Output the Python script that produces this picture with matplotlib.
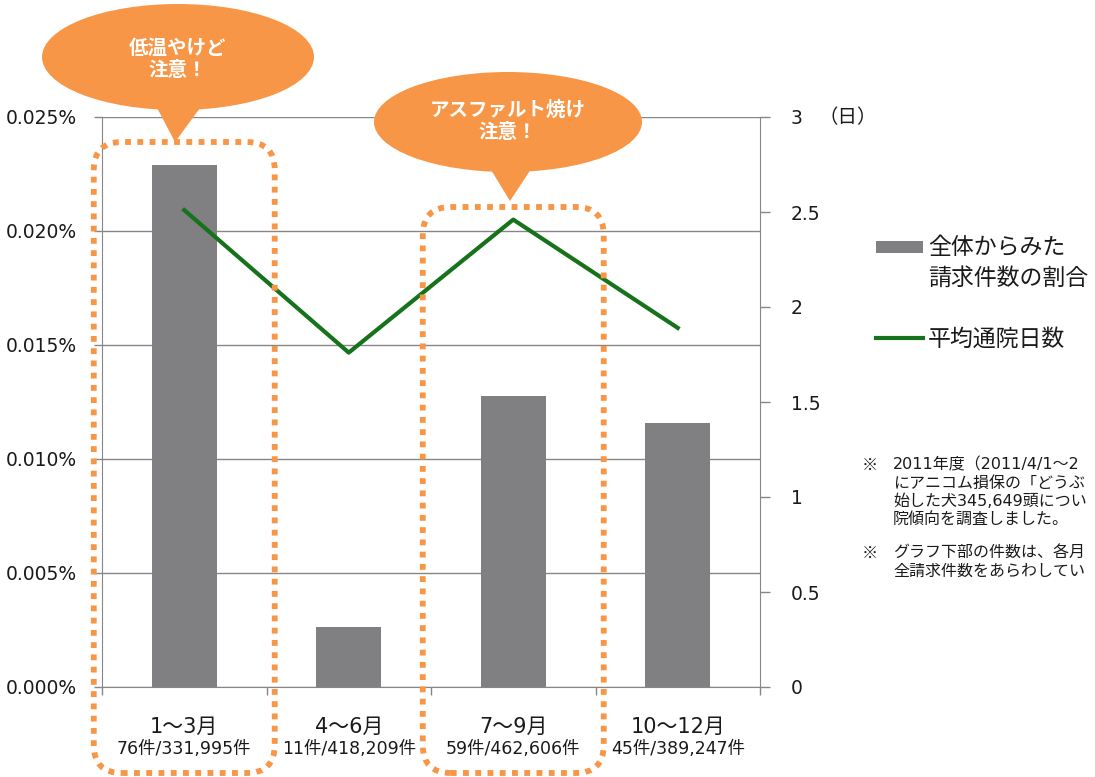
import matplotlib
matplotlib.use("Agg")
import matplotlib.pyplot as plt
from matplotlib.patches import FancyBboxPatch, Ellipse, Polygon, Rectangle
from matplotlib.lines import Line2D
from matplotlib.transforms import IdentityTransform, blended_transform_factory

plt.rcParams['font.family'] = ['Noto Sans CJK JP', 'DejaVu Sans']
# wide latin digits (like the original Gothic), CJK fallback
NUMFONT = ['DejaVu Sans', 'Noto Sans CJK JP']

# data
quarters = ['1～3月', '4～6月', '7～9月', '10～12月']
counts = ['76件/331,995件', '11件/418,209件', '59件/462,606件', '45件/389,247件']
claim_ratio = [0.0229, 0.00263, 0.01275, 0.01156]   # % of all claims
avg_days = [2.51, 1.76, 2.46, 1.89]                  # average visit days
left_ticks = [0, 0.005, 0.010, 0.015, 0.020, 0.025]
left_labels = ['0.000%', '0.005%', '0.010%', '0.015%', '0.020%', '0.025%']
right_ticks = [0, 0.5, 1, 1.5, 2, 2.5, 3]
right_labels = ['0', '0.5', '1', '1.5', '2', '2.5', '3']

GRAY = '#868686'
BAR = '#807f82'
GREEN = '#17721c'
ORANGE = '#f79646'
TXT = '#1a1a1a'

W, H = 1095, 777
fig = plt.figure(figsize=(W / 100, H / 100), dpi=100)
ax = fig.add_axes([102 / W, 90 / H, 658 / W, 570 / H])

x = list(range(len(quarters)))
bars = ax.bar(x, claim_ratio, width=0.395, color=BAR, zorder=3)
ax.set_xlim(-0.5, 3.5)
ax.set_ylim(0, 0.025)
ax.set_yticks(left_ticks)
ax.set_yticklabels(left_labels, fontsize=13.5, color=TXT, family=NUMFONT)
ax.yaxis.grid(True, color=GRAY, lw=1)
ax.set_axisbelow(True)
ax.set_xticks([-0.5, 0.5, 1.5, 2.5, 3.5])
ax.set_xticklabels([])
ax.tick_params(axis='both', direction='out', length=6, color=GRAY, width=1, pad=12)
for s in ['left', 'bottom']:
    ax.spines[s].set_color(GRAY)
ax.spines['top'].set_visible(False)
ax.spines['right'].set_visible(False)

# category labels and claim counts under each bar
trans = blended_transform_factory(ax.transData, ax.transAxes)
for i, (q, c) in enumerate(zip(quarters, counts)):
    ax.text(i, -0.07, q, transform=trans, ha='center', va='center',
            fontsize=15, color=TXT, family=NUMFONT)
    ax.text(i, -0.109, c, transform=trans, ha='center', va='center',
            fontsize=12.5, color=TXT, family=NUMFONT)

ax2 = ax.twinx()
line, = ax2.plot(x, avg_days, color=GREEN, lw=3, zorder=4)
ax2.set_ylim(0, 3)
ax2.set_yticks(right_ticks)
ax2.set_yticklabels(right_labels, fontsize=13.5, color=TXT, family=NUMFONT)
ax2.tick_params(axis='y', direction='out', length=7, color=GRAY, width=1, pad=15)
for s in ['left', 'top', 'bottom']:
    ax2.spines[s].set_visible(False)
ax2.spines['right'].set_color(GRAY)
fig.text(818 / W, 1 - 118 / H, '（日）', fontsize=14, color=TXT, ha='left', va='center')

# dotted rounded boxes around the warned quarters
def px(xd, yd):
    return ax.transData.transform((xd, yd))

fig.canvas.draw()
for xc, top_px in [(0, 142), (2, 207)]:
    x0 = px(xc - 0.55, 0)[0]
    x1 = px(xc + 0.55, 0)[0]
    y0 = 4
    y1 = H - top_px
    box = FancyBboxPatch((x0, y0), x1 - x0, y1 - y0,
                         boxstyle='round,pad=0,rounding_size=28',
                         fill=False, ec=ORANGE, lw=4.2, ls=(0, (1, 1.1)),
                         capstyle='butt', transform=IdentityTransform(), zorder=10)
    fig.add_artist(box)

# speech bubbles
bubbles = [
    ((178, 57), 272, 106, [(155, 104), (203, 104), (175, 142)], '低温やけど\n注意！', 59),
    ((508, 122), 268, 100, [(485, 160), (537, 160), (510, 201)], 'アスファルト焼け\n注意！', 121),
]
for (cx, cy), bw, bh, tri, label, ty in bubbles:
    fig.add_artist(Ellipse((cx, H - cy), bw, bh, fc=ORANGE, ec='none',
                           transform=IdentityTransform(), zorder=11))
    fig.add_artist(Polygon([(a, H - b) for a, b in tri], closed=True, fc=ORANGE, ec='none',
                           transform=IdentityTransform(), zorder=11))
    fig.text(cx / W, 1 - ty / H, label, color='white', fontsize=14, fontweight='bold',
             ha='center', va='center', linespacing=1.2, zorder=12)

# legend
fig.add_artist(Rectangle((876, H - 253), 47, 12, fc=BAR, ec='none', transform=IdentityTransform()))
fig.text(928 / W, 1 - 248 / H, '全体からみた', fontsize=16.5, color=TXT, va='center')
fig.text(928 / W, 1 - 278 / H, '請求件数の割合', fontsize=16.5, color=TXT, va='center')
fig.add_artist(Line2D([876, 923], [H - 338, H - 338], color=GREEN, lw=3, transform=IdentityTransform()))
fig.text(928 / W, 1 - 339 / H, '平均通院日数', fontsize=16.5, color=TXT, va='center')

# notes (cut off at the right edge as in the original)
notes = [
    (465, '※', '2011年度（2011/4/1～2'),
    (483, '', 'にアニコム損保の「どうぶ'),
    (501, '', '始した犬345,649頭につい'),
    (519, '', '院傾向を調査しました。'),
    (553, '※', 'グラフ下部の件数は、各月'),
    (571, '', '全請求件数をあらわしてい'),
]
for yy, mark, t in notes:
    if mark:
        fig.text(862 / W, 1 - yy / H, mark, fontsize=11.5, color=TXT, va='center')
    fig.text(893 / W, 1 - yy / H, t, fontsize=11.5, color=TXT, va='center', family=NUMFONT)

fig.savefig('out.png', dpi=100)
